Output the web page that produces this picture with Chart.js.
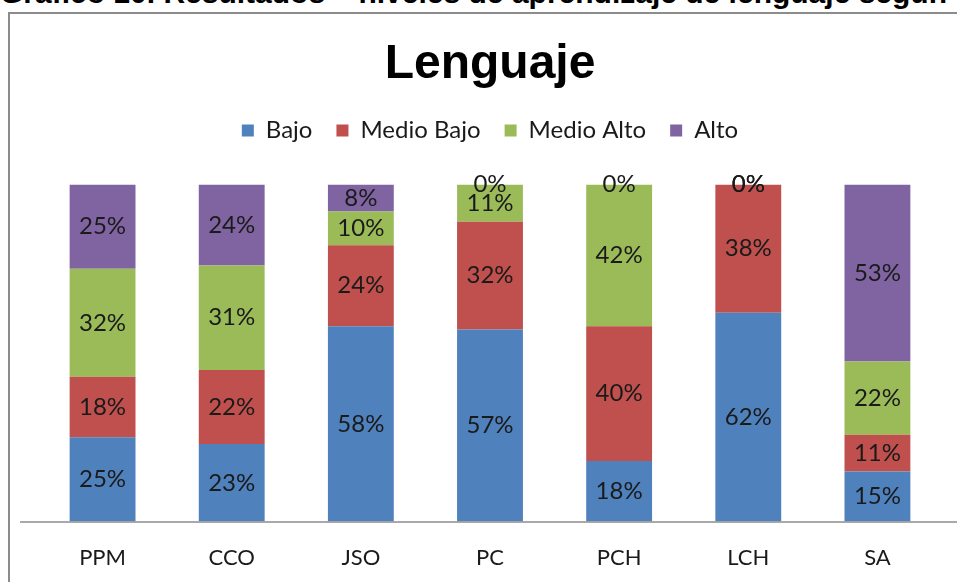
<!DOCTYPE html>
<html>
<head>
<meta charset="utf-8">
<script src="https://cdn.jsdelivr.net/npm/chart.js@4.4.1/dist/chart.umd.min.js"></script>
<style>
  html, body { margin: 0; padding: 0; background: #fff; overflow: hidden; }
  #wrap { position: relative; width: 957px; height: 582px; overflow: hidden; }
  #caption {
    position: absolute; left: 0px; top: -24px; white-space: nowrap;
    font: bold 30px "Liberation Sans", Arial, sans-serif; color: #000;
  }
  #frame {
    position: absolute; left: 8px; top: 12px; width: 1200px; height: 800px;
    border-top: 2px solid #8c8c8c; border-left: 2px solid #8c8c8c;
  }
  #lenguaje-chart { position: absolute; left: 0; top: 0; }
</style>
</head>
<body>
<div id="wrap">
  <div id="caption">Gráfico 10. Resultados – niveles de aprendizaje de lenguaje según</div>
  <div id="frame"></div>
  <canvas id="lenguaje-chart" width="957" height="582"></canvas>
</div>
<script>
// Datos
const categorias = ["PPM", "CCO", "JSO", "PC", "PCH", "LCH", "SA"];
const bajo = [25, 23, 58, 57, 18, 62, 15];
const medioBajo = [18, 22, 24, 32, 40, 38, 11];
const medioAlto = [32, 31, 10, 11, 42, 0, 22];
const alto = [25, 24, 8, 0, 0, 0, 53];

const series = [
  { label: "Bajo", values: bajo, color: "#4F81BD" },
  { label: "Medio Bajo", values: medioBajo, color: "#C0504D" },
  { label: "Medio Alto", values: medioAlto, color: "#9BBB59" },
  { label: "Alto", values: alto, color: "#8064A2" },
];

// Apilado al 100% (como Excel): cada columna se normaliza a su total
const totales = categorias.map((_, i) =>
  series.reduce((acc, s) => acc + s.values[i], 0),
);

const FONT = "Lato, 'Open Sans', sans-serif";

// Etiquetas de porcentaje en el centro de cada segmento
const segmentLabels = {
  id: "segmentLabels",
  afterDatasetsDraw(chart) {
    const ctx = chart.ctx;
    ctx.save();
    ctx.font = "24px " + FONT;
    ctx.fillStyle = "#1a1a1a";
    ctx.textAlign = "center";
    ctx.textBaseline = "middle";
    chart.data.datasets.forEach((ds, di) => {
      const meta = chart.getDatasetMeta(di);
      meta.data.forEach((bar, i) => {
        const y = (bar.y + bar.base) / 2;
        ctx.fillText(ds.rawValues[i] + "%", bar.x, y);
      });
    });
    ctx.restore();
  },
};

// Línea del eje horizontal
const axisLine = {
  id: "axisLine",
  afterDatasetsDraw(chart) {
    const ctx = chart.ctx;
    const y = chart.chartArea.bottom + 0.5;
    ctx.save();
    ctx.strokeStyle = "#8c8c8c";
    ctx.lineWidth = 1.5;
    ctx.beginPath();
    ctx.moveTo(20, y);
    ctx.lineTo(chart.width, y);
    ctx.stroke();
    ctx.restore();
  },
};

// Espacio extra bajo la leyenda
const legendSpace = {
  id: "legendSpace",
  beforeInit(chart) {
    const fit = chart.legend.fit;
    chart.legend.fit = function () {
      fit.bind(chart.legend)();
      this.height += 32;
    };
  },
};

new Chart(document.getElementById("lenguaje-chart"), {
  type: "bar",
  plugins: [legendSpace, segmentLabels, axisLine],
  data: {
    labels: categorias,
    datasets: series.map((s) => ({
      label: s.label,
      data: s.values.map((v, i) => (v * 100) / totales[i]),
      rawValues: s.values,
      backgroundColor: s.color,
      borderWidth: 0,
      barPercentage: 0.51,
      categoryPercentage: 1,
    })),
  },
  options: {
    responsive: false,
    animation: false,
    layout: { padding: { top: 36, left: 38, right: 15, bottom: -4 } },
    plugins: {
      title: {
        display: true,
        text: "Lenguaje",
        color: "#000",
        font: { family: "'Liberation Sans', Arial, sans-serif", size: 48, weight: "bold" },
        padding: { top: 0, bottom: 1 },
      },
      legend: {
        position: "top",
        labels: {
          color: "#1a1a1a",
          boxWidth: 12,
          boxHeight: 12,
          padding: 24,
          font: { family: FONT, size: 24 },
        },
      },
      tooltip: { enabled: false },
    },
    scales: {
      x: {
        stacked: true,
        grid: { display: false },
        border: { display: false },
        ticks: { color: "#1a1a1a", padding: 15, font: { family: FONT, size: 22 } },
      },
      y: {
        stacked: true,
        display: false,
        min: 0,
        max: 100,
      },
    },
  },
});
</script>
</body>
</html>
